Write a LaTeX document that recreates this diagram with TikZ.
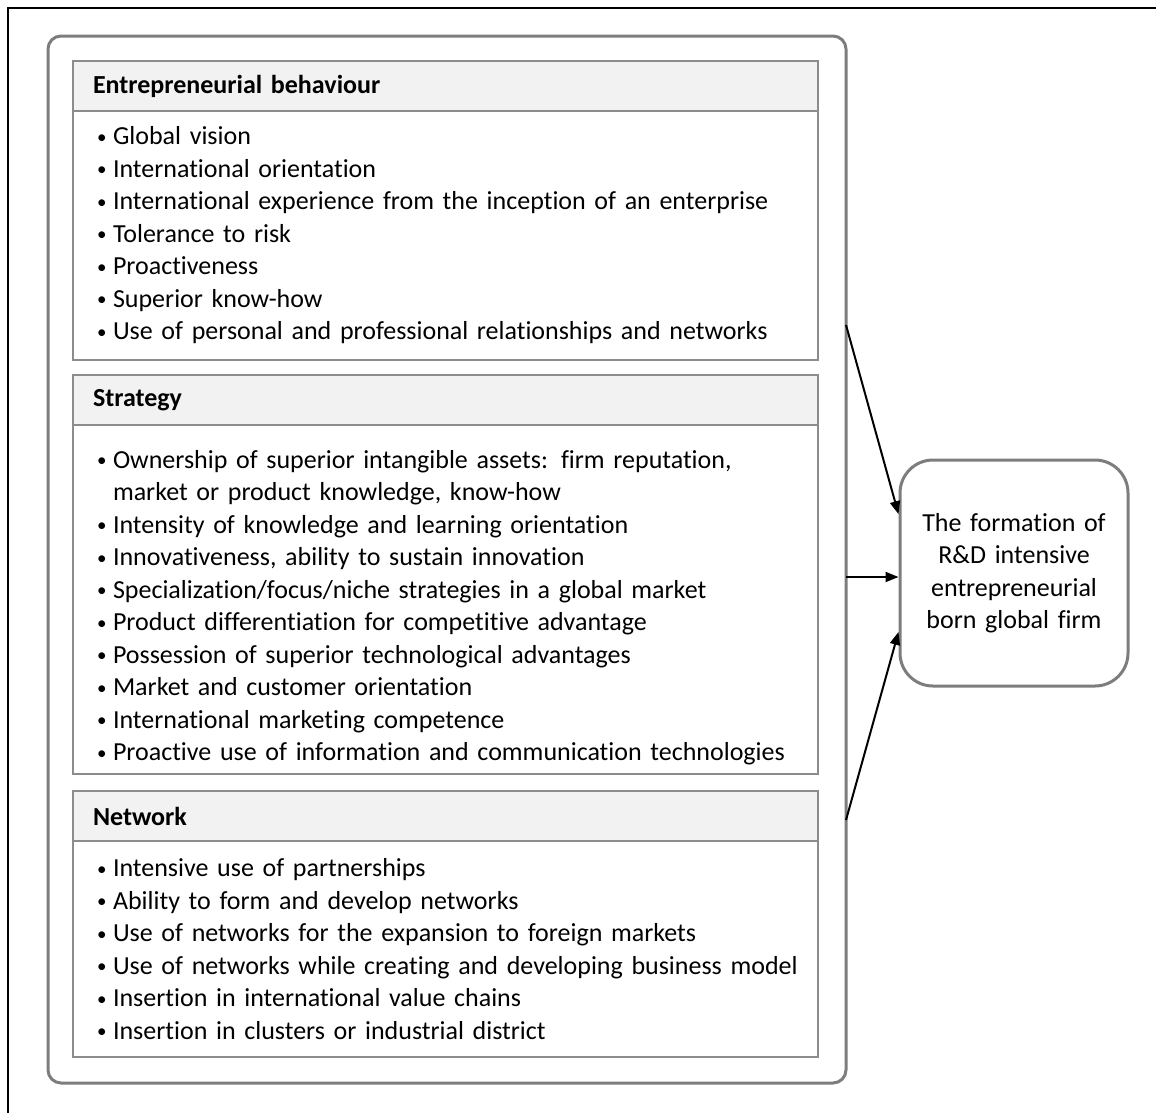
\documentclass[tikz,border=0pt]{standalone}
\usepackage{fontspec}
\setmainfont{Carlito}[Ligatures=NoCommon]
\usepackage{xcolor}
\usepackage{tikz}
\usetikzlibrary{arrows.meta,positioning}
\definecolor{framec}{HTML}{7F7C7C}
\definecolor{linec}{HTML}{8C8C8C}
\definecolor{headbg}{HTML}{F2F2F2}
\newcommand\bfont{\fontsize{26}{32.5}\selectfont}
\newcommand\itm{\makebox[30pt][l]{\hspace{14pt}\raisebox{1.5pt}{\fontsize{19}{19}\selectfont\textbullet}}}
\newcommand\cnt{\hspace*{30pt}}
\tikzset{
  ar/.style={-{Triangle[length=13pt,width=10pt]},line width=2pt,black},
  panelbox/.style={draw=framec,line width=3pt,rounded corners=13pt,minimum width=798,minimum height=1047,inner sep=0pt},
  headbox/.style={draw=linec,line width=1.6pt,fill=headbg,anchor=north west,outer sep=0pt,minimum width=745,minimum height=50,text width=705,inner xsep=20pt,align=left,font=\bfont\bfseries},
  bodybox/.style={draw=linec,line width=1.6pt,outer sep=0pt,minimum width=745,text width=725,inner xsep=10pt,align=left,font=\bfont},
  goalbox/.style={draw=framec,line width=3pt,rounded corners=33pt,minimum width=228,minimum height=226,text width=215,align=center,font=\bfont}
}
\begin{document}
\begin{tikzpicture}[x=1pt,y=-1pt]
\useasboundingbox (0,0) rectangle (1156,1112);
\draw[line width=2pt] (7.5,1130) -- (7.5,7.5) -- (1170,7.5);
\node[panelbox] (panel) at (447,559.5) {};
% entrepreneurial behaviour
\node[headbox] (hd1) at (73,61) {Entrepreneurial behaviour};
\node[bodybox,minimum height=249,below=0pt of hd1] (bd1) {\itm Global vision\\
\itm International orientation\\
\itm International experience from the inception of an enterprise\\
\itm Tolerance to risk\\
\itm Proactiveness\\
\itm Superior know-how\\
\itm Use of personal and professional relationships and networks};
% strategy
\node[headbox] (hd2) at (73,375) {Strategy};
\node[bodybox,minimum height=349,below=0pt of hd2] (bd2) {\rule{0pt}{34pt}\itm Ownership of superior intangible assets: firm reputation,\\
\cnt market or product knowledge, know-how\\
\itm Intensity of knowledge and learning orientation\\
\itm Innovativeness, ability to sustain innovation\\
\itm Specialization/focus/niche strategies in a global market\\
\itm Product differentiation for competitive advantage\\
\itm Possession of superior technological advantages\\
\itm Market and customer orientation\\
\itm International marketing competence\\
\itm Proactive use of information and communication technologies};
% network
\node[headbox] (hd3) at (73,791) {Network};
\node[bodybox,minimum height=216,below=0pt of hd3] (bd3) {\itm Intensive use of partnerships\\
\itm Ability to form and develop networks\\
\itm Use of networks for the expansion to foreign markets\\
\itm Use of networks while creating and developing business model\\
\itm Insertion in international value chains\\
\itm Insertion in clusters or industrial district};
% outcome
\node[goalbox] (goal) at (1014,573) {The formation of\\R\&D intensive\\entrepreneurial\\born global firm};
\coordinate (p1) at (846,325);
\coordinate (p2) at (846,577);
\coordinate (p3) at (846,820);
\draw[ar] (p1) -- (goal.153);
\draw[ar] (p2) -- (goal.west |- p2);
\draw[ar] (p3) -- (goal.207);
\end{tikzpicture}
\end{document}
